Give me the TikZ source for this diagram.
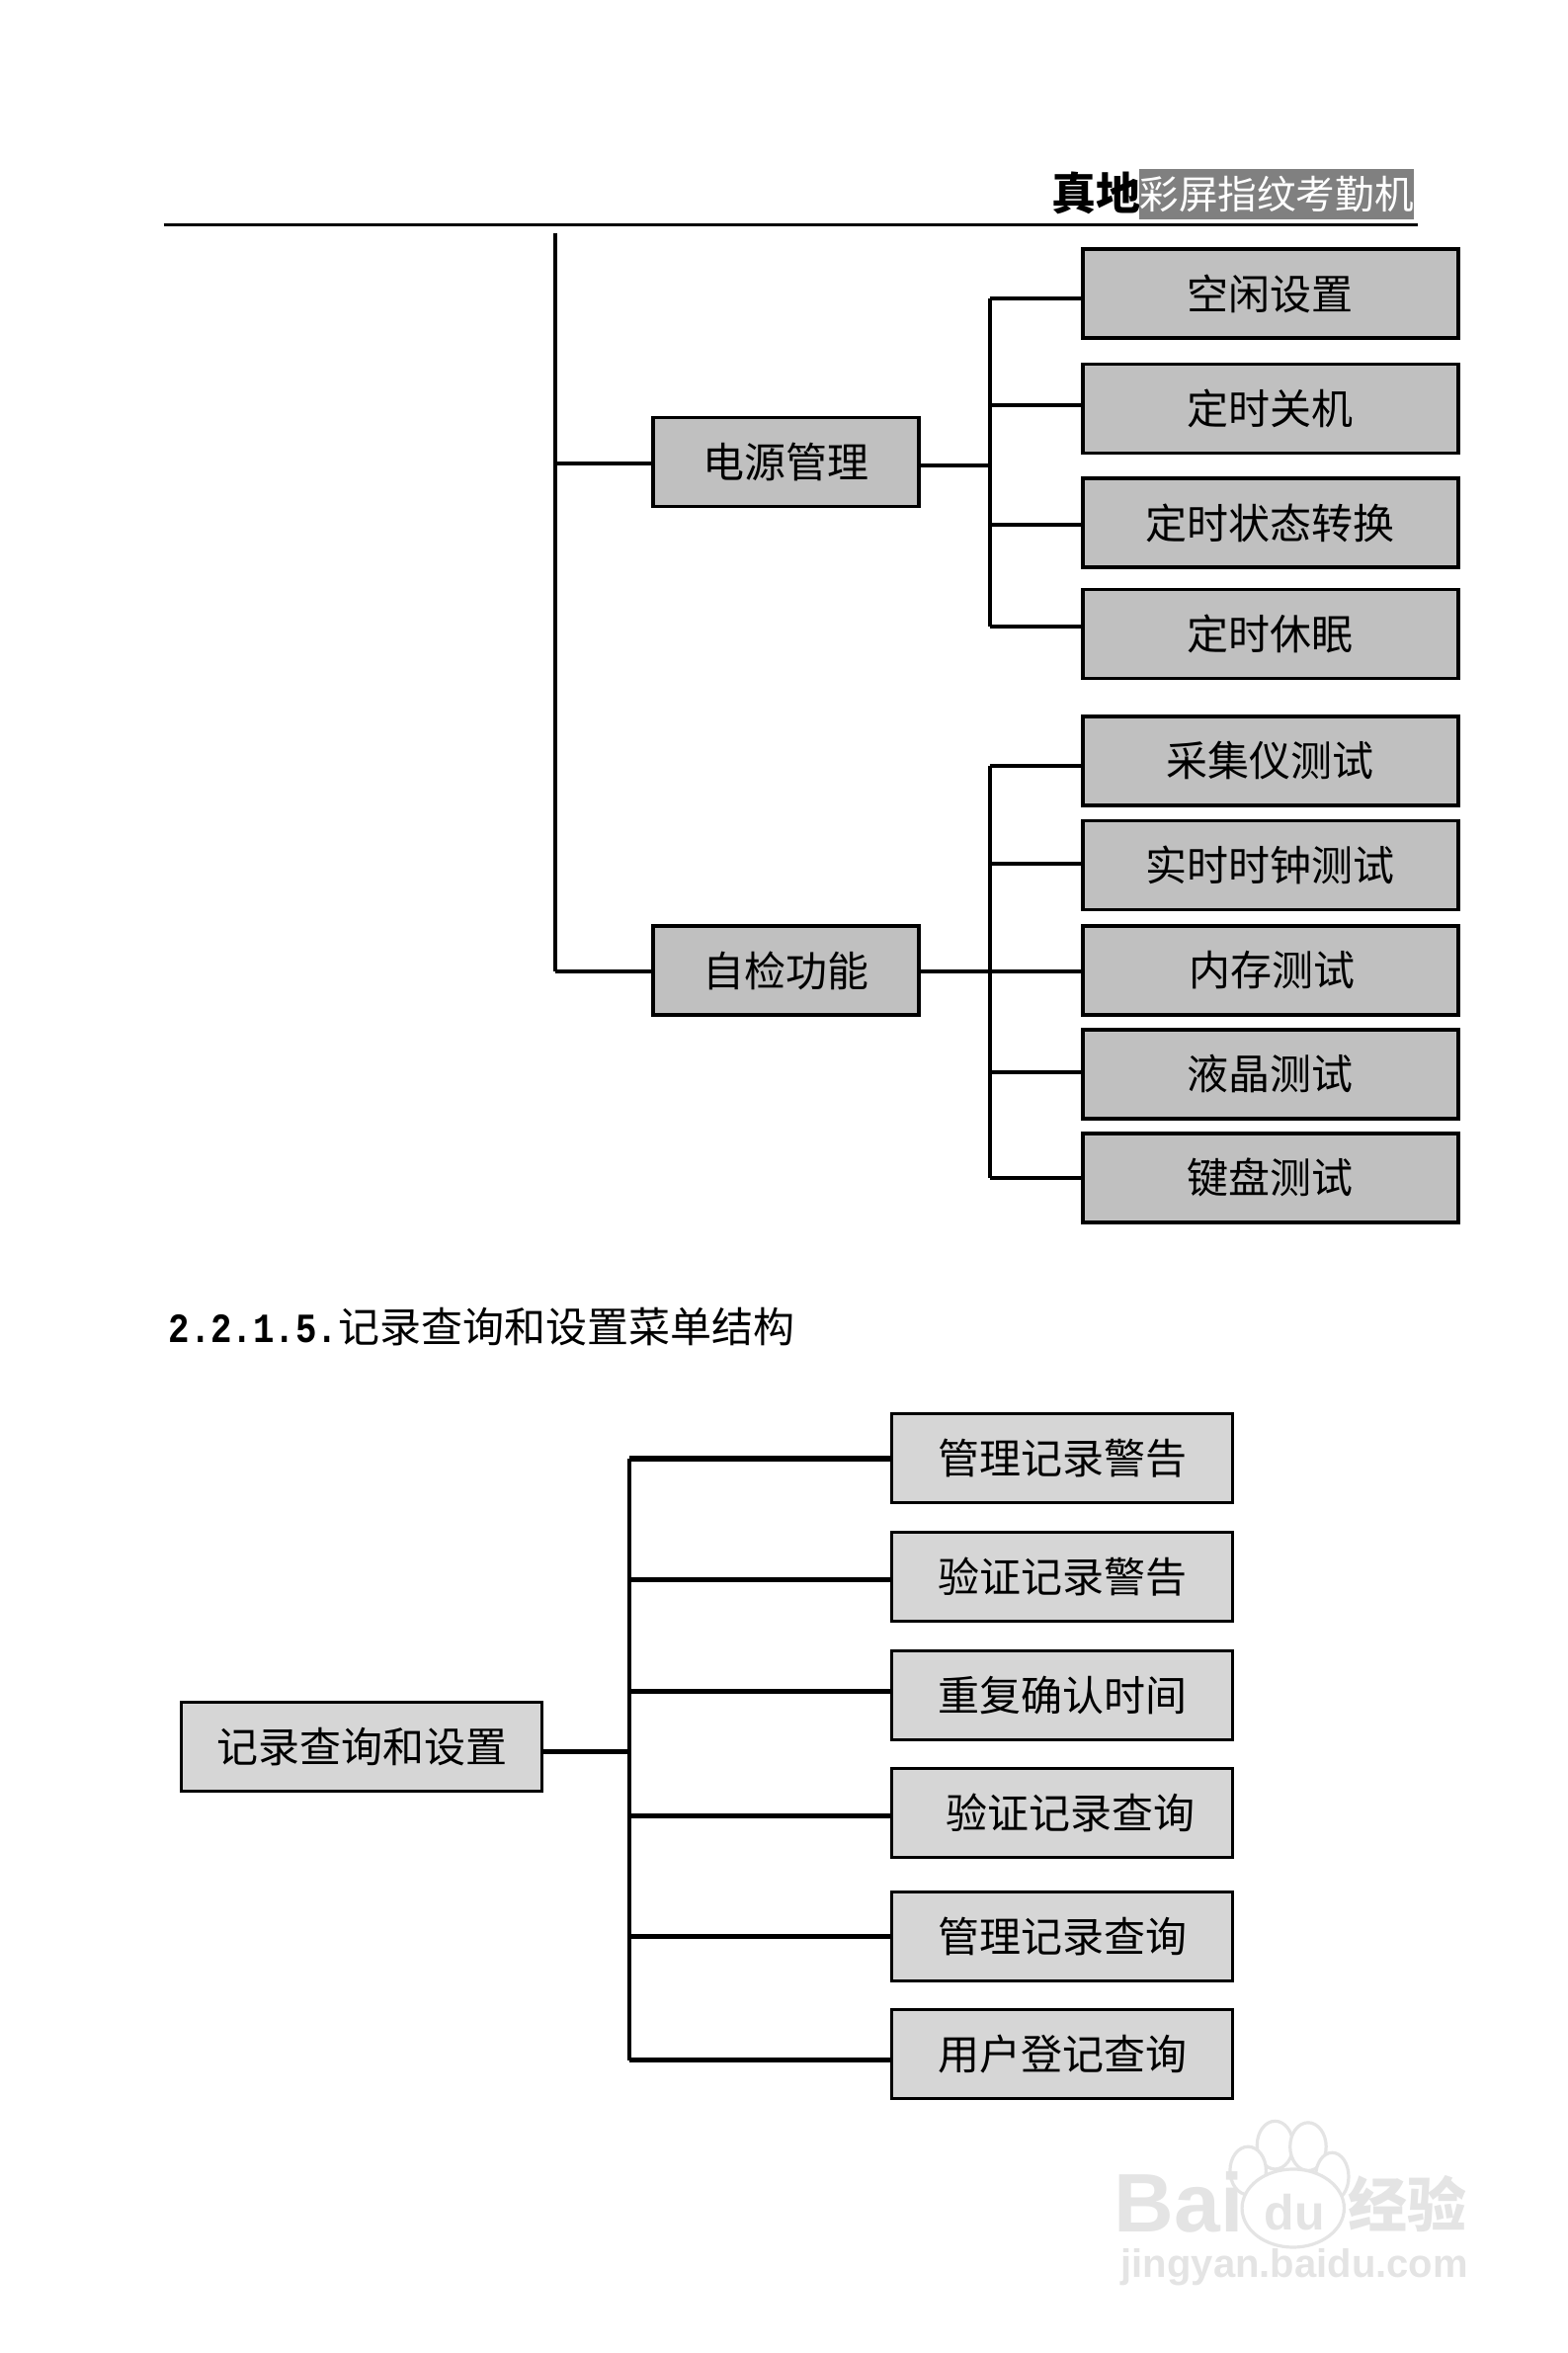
\documentclass[tikz,border=0pt]{standalone}
\usepackage{fontspec}
\setmainfont{Noto Sans CJK SC}
\newfontfamily\digitfont[FakeStretch=.85]{Liberation Mono}
\newfontfamily\markfont{Liberation Sans}
\usetikzlibrary{calc,positioning}
\definecolor{upgray}{HTML}{C0C0C0}
\definecolor{lowgray}{HTML}{D6D6D6}
\definecolor{bargray}{HTML}{808080}
\definecolor{markgray}{HTML}{E4E4E4}
\tikzset{
  menubox/.style={draw=black,line width=1.8pt,fill=upgray,minimum width=190pt,minimum height=45pt,inner sep=0pt,font=\fontsize{21}{25}\selectfont},
  groupbox/.style={menubox,minimum width=134.5pt},
  lowbox/.style={menubox,line width=1.5pt,fill=lowgray,minimum width=172.5pt},
  rootbox/.style={lowbox,minimum width=182.5pt},
  linkup/.style={line width=2pt},
  linklow/.style={line width=2.6pt},
  pawtoe/.style={draw=markgray,line width=1.6pt,fill=white}
}

\begin{document}
\begin{tikzpicture}[x=0.76pt,y=-0.76pt]
\useasboundingbox (0,1) rectangle (1044,1567.4);

\node[inner sep=0pt,font=\fontsize{22.5}{26}\selectfont\bfseries] (brand) at (730,129.5) {真地};
\node[fill=bargray,text=white,minimum width=137pt,minimum height=25.5pt,inner sep=0pt,font=\fontsize{19.8}{24}\selectfont] (bar) at (850,130) {彩屏指纹考勤机};
\coordinate (ruleL) at (109,150.5);
\coordinate (ruleR) at (944,150.5);
\draw[line width=1.6pt] (ruleL) -- (ruleR);

\node[menubox] (idle) at (846,196.5) {空闲设置};
\node[menubox] (shutdown) at (846,273) {定时关机};
\node[menubox] (state) at (846,349) {定时状态转换};
\node[menubox] (sleep) at (846,423) {定时休眠};
\node[menubox] (sensor) at (846,507.5) {采集仪测试};
\node[menubox] (clock) at (846,577) {实时时钟测试};
\node[menubox] (memory) at (846,647) {\hspace*{1.5pt}内存测试};
\node[menubox] (lcd) at (846,716) {液晶测试};
\node[menubox] (keys) at (846,785) {键盘测试};

\node[groupbox] (power) at (523.5,308.5) {电源管理};
\node[groupbox] (check) at (523.5,647) {自检功能};

\coordinate (trunktop) at (370,156);
\coordinate (trunkpow) at (370,309.5);
\coordinate (trunkchk) at (370,648);
\draw[linkup] (trunktop) -- (trunkchk);
\draw[linkup] (trunkpow) -- (trunkpow -| power.west);
\draw[linkup] (trunkchk) -- (trunkchk -| check.west);

\coordinate (busA1) at (659,200);
\coordinate (busA2) at (659,270.5);
\coordinate (busA3) at (659,350.5);
\coordinate (busA4) at (659,418);
\coordinate (busAin) at (659,311);
\draw[linkup] (busA1) -- (busA4);
\draw[linkup] (busA1) -- (busA1 -| idle.west);
\draw[linkup] (busA2) -- (busA2 -| shutdown.west);
\draw[linkup] (busA3) -- (busA3 -| state.west);
\draw[linkup] (busA4) -- (busA4 -| sleep.west);
\draw[linkup] (power.east |- busAin) -- (busAin);

\coordinate (busB1) at (659,511);
\coordinate (busB2) at (659,576);
\coordinate (busB3) at (659,648);
\coordinate (busB4) at (659,714.5);
\coordinate (busB5) at (659,785);
\draw[linkup] (busB1) -- (busB5);
\draw[linkup] (busB1) -- (busB1 -| sensor.west);
\draw[linkup] (busB2) -- (busB2 -| clock.west);
\draw[linkup] (check.east |- busB3) -- (busB3 -| memory.west);
\draw[linkup] (busB4) -- (busB4 -| lcd.west);
\draw[linkup] (busB5) -- (busB5 -| keys.west);

\node[anchor=west,inner sep=0pt,font=\fontsize{21}{25}\selectfont] (title) at (112,884) {{\digitfont\bfseries 2.2.1.5.}记录查询和设置菜单结构};

\node[rootbox] (records) at (241,1164) {记录查询和设置};
\node[lowbox] (warnA) at (707.5,972) {管理记录警告};
\node[lowbox] (warnB) at (707.5,1050.5) {验证记录警告};
\node[lowbox] (repeat) at (707.5,1129.5) {重复确认时间};
\node[lowbox] (queryA) at (707.5,1208) {\hspace*{7.6pt}验证记录查询};
\node[lowbox] (queryB) at (707.5,1290) {管理记录查询};
\node[lowbox] (queryC) at (707.5,1368.5) {用户登记查询};

\coordinate (lowbus0) at (419,1167);
\coordinate (lowbus1) at (419,972);
\coordinate (lowbus2) at (419,1052.5);
\coordinate (lowbus3) at (419,1127);
\coordinate (lowbus4) at (419,1210);
\coordinate (lowbus5) at (419,1290);
\coordinate (lowbus6) at (419,1372.5);
\draw[linkup] (lowbus1) -- (lowbus6);
\draw[linklow] (records.east |- lowbus0) -- (lowbus0);
\draw[linklow] (lowbus1) -- (lowbus1 -| warnA.west);
\draw[linklow] (lowbus2) -- (lowbus2 -| warnB.west);
\draw[linklow] (lowbus3) -- (lowbus3 -| repeat.west);
\draw[linklow] (lowbus4) -- (lowbus4 -| queryA.west);
\draw[linklow] (lowbus5) -- (lowbus5 -| queryB.west);
\draw[linklow] (lowbus6) -- (lowbus6 -| queryC.west);

\draw[pawtoe] (849,1429) ellipse (12 and 16);
\draw[pawtoe] (871,1430) ellipse (12 and 16);
\draw[pawtoe] (831,1446) ellipse (12 and 16);
\draw[pawtoe] (887,1450) ellipse (11 and 16);
\draw[pawtoe] (861,1471) ellipse (34 and 26);
\node[inner sep=0pt,text=markgray,font=\markfont\fontsize{42}{46}\selectfont\bfseries] (markbai) at (785,1467) {Bai};
\node[inner sep=0pt,text=markgray,font=\markfont\fontsize{25}{29}\selectfont\bfseries] (markdu) at (862,1474) {du};
\node[inner sep=0pt,text=markgray,font=\fontsize{30}{34}\selectfont\bfseries] (markjy) at (937,1468) {经验};
\node[inner sep=0pt,text=markgray,font=\markfont\fontsize{20}{24}\selectfont\bfseries] (markurl) at (862,1510) {jingyan.baidu.com};
\end{tikzpicture}
\end{document}
